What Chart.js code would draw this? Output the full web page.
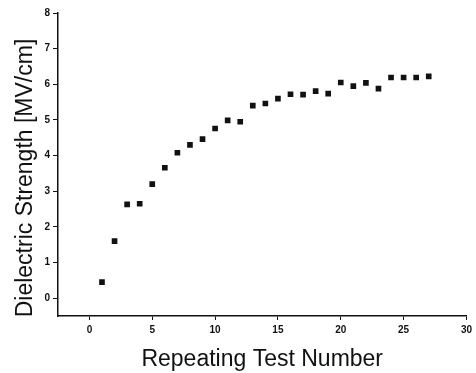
<!DOCTYPE html>
<html>
<head>
<meta charset="utf-8">
<script src="https://cdn.jsdelivr.net/npm/chart.js"></script>
<style>
  html, body { margin: 0; padding: 0; background: #fff; }
  #wrap { width: 476px; height: 373px; }
</style>
</head>
<body>
<div id="wrap"><canvas id="c" width="476" height="373"></canvas></div>
<script>
// data
const testNumbers = [1, 2, 3, 4, 5, 6, 7, 8, 9, 10, 11, 12, 13, 14, 15, 16, 17, 18, 19, 20, 21, 22, 23, 24, 25, 26, 27];
const strength = [0.45, 1.6, 2.63, 2.65, 3.2, 3.66, 4.08, 4.3, 4.46, 4.76, 4.99, 4.95, 5.4, 5.46, 5.6, 5.72, 5.71, 5.81, 5.74, 6.05, 5.95, 6.04, 5.88, 6.19, 6.19, 6.19, 6.22];
const xTicks = [0, 5, 10, 15, 20, 25, 30];
const yTicks = [0, 1, 2, 3, 4, 5, 6, 7, 8];
const xTitle = 'Repeating Test Number';
const yTitle = 'Dielectric Strength [MV/cm]';

const FONT = '"Liberation Sans", Arial, sans-serif';

// axis titles placed by hand, the y one sits a bit below the plot centre
const axisTitles = {
    id: 'axisTitles',
    afterDraw(chart) {
        const { ctx, chartArea } = chart;
        ctx.save();
        ctx.fillStyle = '#111';
        ctx.font = '23px ' + FONT;
        ctx.textAlign = 'center';
        ctx.textBaseline = 'alphabetic';
        ctx.fillText(xTitle, (chartArea.left + chartArea.right) / 2, 366);
        ctx.translate(32, 178);
        ctx.rotate(-Math.PI / 2);
        ctx.fillText(yTitle, 0, 0);
        ctx.restore();
    }
};

const tickFont = { family: FONT, size: 10, weight: 'bold' };

new Chart(document.getElementById('c').getContext('2d'), {
    type: 'scatter',
    data: {
        datasets: [{
            data: testNumbers.map((x, i) => ({ x: x, y: strength[i] })),
            pointStyle: 'rect',
            pointRadius: 4,
            pointBackgroundColor: '#111',
            pointBorderColor: '#111',
            pointBorderWidth: 0
        }]
    },
    options: {
        responsive: false,
        animation: false,
        layout: { padding: { top: 13, right: 7, left: 0, bottom: 0 } },
        plugins: { legend: { display: false }, tooltip: { enabled: false } },
        scales: {
            x: {
                type: 'linear', min: -2.5, max: 30,
                afterBuildTicks: s => { s.ticks = xTicks.map(v => ({ value: v })); },
                afterFit: s => { s.height = 57; },
                grid: { drawOnChartArea: false, drawTicks: true, tickLength: 4, color: '#111', lineWidth: 1 },
                border: { display: true, color: '#111', width: 1.5 },
                ticks: { color: '#111', font: tickFont, padding: 4, maxRotation: 0 }
            },
            y: {
                type: 'linear', min: -0.5, max: 8,
                afterBuildTicks: s => { s.ticks = yTicks.map(v => ({ value: v })); },
                afterFit: s => { s.width = 58; },
                grid: { drawOnChartArea: false, drawTicks: true, tickLength: 5, color: '#111', lineWidth: 1 },
                border: { display: true, color: '#111', width: 1.5 },
                ticks: { color: '#111', font: tickFont, padding: 3 }
            }
        }
    },
    plugins: [axisTitles]
});
</script>
</body>
</html>
